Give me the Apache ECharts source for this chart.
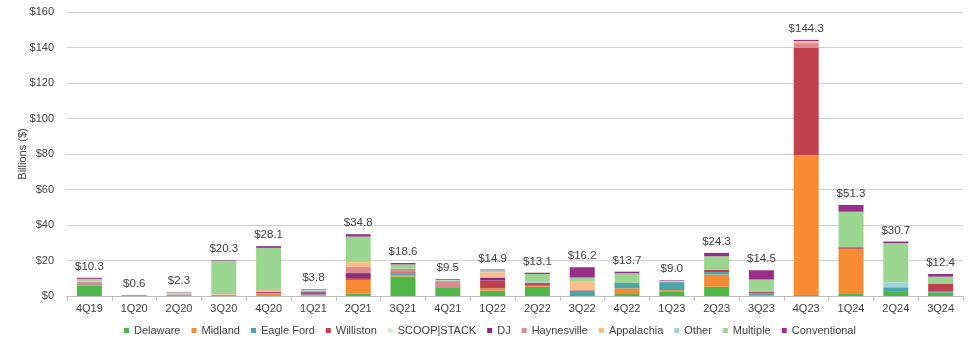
<!DOCTYPE html>
<html>
<head>
<meta charset="utf-8">
<script src="https://cdn.jsdelivr.net/npm/echarts@6/dist/echarts.min.js"></script>
<style>html,body{margin:0;padding:0;background:#fff;}#c{width:975px;height:347px;}</style>
</head>
<body>
<div id="c"></div>
<script>
const categories = ["4Q19","1Q20","2Q20","3Q20","4Q20","1Q21","2Q21","3Q21","4Q21","1Q22","2Q22","3Q22","4Q22","1Q23","2Q23","3Q23","4Q23","1Q24","2Q24","3Q24"];
const delaware    = [5.8,0,0,0,0,0,1.5,11.0,4.6,3.0,5.2,0,1.1,2.3,5.2,0.4,0.5,1.1,2.3,1.9];
const midland     = [0.2,0.1,0.7,0.6,1.4,0.3,7.5,0.5,0.2,1.3,0.6,0,3.2,1.0,6.9,0,79.0,25.5,0,0];
const eagleFord   = [0.5,0,0,0,0.2,0.6,0.1,1.3,0,0,0,2.9,3.1,4.5,1.4,1.1,0,0,2.2,0.6];
const williston   = [0.4,0.1,0,0,0.2,1.0,1.0,0.6,0.6,4.5,1.1,0,0,0,1.2,0.9,60.2,0.9,0,4.5];
const scoopStack  = [0.2,0,0.3,0,0,0,0,0,0,0,0,0,0,0,0,0,0,0,0,0];
const dj          = [0.2,0,0.2,0,0.5,0.6,2.8,0,0,1.5,0.6,0,0,0,0,0,0,0,0,0];
const haynesville = [0.6,0.2,0,0.2,0.3,0.5,3.4,1.9,3.0,0.3,0,0.5,0,0.4,0,0,2.8,0,0.5,0];
const appalachia  = [0.4,0,0.6,0.4,0.8,0,2.8,0,0,2.8,0,5.1,0,0,0,0,1.1,0,0,0];
const other       = [0.2,0,0,0,0,0.3,0,0,0.3,1.1,0.6,0,0,0.5,0,0,0,0,2.7,0];
const multiple    = [1.2,0,0.3,18.8,23.7,0.2,14.4,2.5,0.4,0,4.3,1.9,5.4,0,7.7,6.9,0,20.0,22.1,3.9];
const conventional= [0.6,0.2,0.2,0.3,1.0,0.3,1.3,0.8,0.4,0.4,0.7,5.8,0.9,0.3,1.9,5.2,0.7,3.8,0.9,1.5];
const totals      = [10.3,0.6,2.3,20.3,28.1,3.8,34.8,18.6,9.5,14.9,13.1,16.2,13.7,9.0,24.3,14.5,144.3,51.3,30.7,12.4];
const yTicks      = [0,20,40,60,80,100,120,140,160];

const seriesDefs = [
  ["Delaware", delaware, "#4EB748"],
  ["Midland", midland, "#F68B33"],
  ["Eagle Ford", eagleFord, "#4AA6A8"],
  ["Williston", williston, "#C0414E"],
  ["SCOOP|STACK", scoopStack, "#DAEDD6"],
  ["DJ", dj, "#862C80"],
  ["Haynesville", haynesville, "#D98B92"],
  ["Appalachia", appalachia, "#FBBD89"],
  ["Other", other, "#9DD3D9"],
  ["Multiple", multiple, "#9AD68F"],
  ["Conventional", conventional, "#982E8A"]
];

const FONT = "Liberation Sans, Arial, sans-serif";
const BW = 25;
const series = seriesDefs.map(([name, data, color]) => ({
  name, type: "bar", stack: "total", data, barWidth: BW,
  itemStyle: { color }, emphasis: { disabled: true }
}));
series.push({
  name: "Total", type: "bar", data: totals, barWidth: BW, barGap: "-100%",
  itemStyle: { color: "rgba(0,0,0,0)" }, silent: true,
  label: {
    show: true, position: "top", distance: 5, color: "#404040",
    fontSize: 11.5, fontFamily: FONT,
    formatter: p => "$" + p.value.toFixed(1)
  }
});

const chart = echarts.init(document.getElementById("c"), null, { renderer: "canvas" });
chart.setOption({
  animation: false,
  textStyle: { fontFamily: FONT },
  grid: { left: 67, right: 12, top: 12, bottom: 51, containLabel: false },
  legend: {
    data: seriesDefs.map(s => s[0]),
    left: 119, top: 320, itemWidth: 5, itemHeight: 5, itemGap: 11,
    icon: "rect",
    textStyle: { fontSize: 11, color: "#404040", fontFamily: FONT }
  },
  xAxis: {
    type: "category", data: categories,
    axisLine: { lineStyle: { color: "#BFBFBF", width: 1 } },
    axisTick: { show: true, alignWithLabel: false, length: 5, lineStyle: { color: "#BFBFBF" } },
    axisLabel: { color: "#404040", fontSize: 11, margin: 7 }
  },
  yAxis: {
    type: "value", min: yTicks[0], max: yTicks[yTicks.length - 1], interval: 20,
    name: "Billions ($)", nameLocation: "middle", nameGap: 39, nameRotate: 90,
    nameMoveOverlap: false,
    nameTextStyle: { color: "#404040", fontSize: 11 },
    axisLine: { show: false }, axisTick: { show: false },
    axisLabel: { color: "#404040", fontSize: 11, margin: 13, formatter: v => "$" + v },
    splitLine: { lineStyle: { color: "#D0D0D0", width: 1 } }
  },
  series
});
</script>
</body>
</html>
